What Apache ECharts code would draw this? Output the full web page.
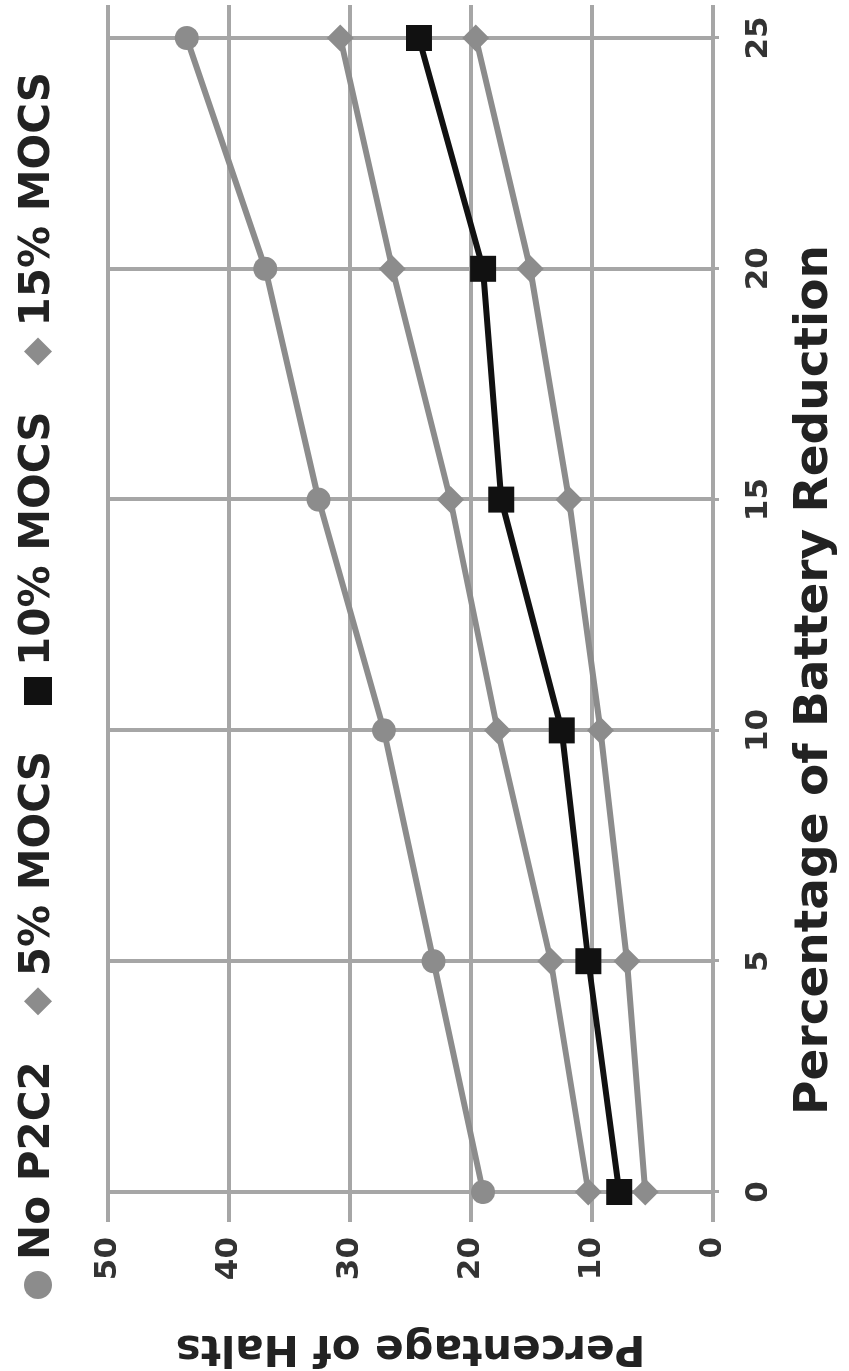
<!DOCTYPE html>
<html><head><meta charset="utf-8">
<script src="https://cdn.jsdelivr.net/npm/echarts@6/dist/echarts.min.js"></script>
<style>
html,body{margin:0;padding:0;background:#fff;overflow:hidden;width:849px;height:1371px;}
#chart{position:absolute;left:0;top:0;width:1371px;height:849px;transform-origin:0 0;transform:translate(0,1371px) rotate(-90deg);}
</style></head><body>
<div id="chart"></div>
<script>
// Battery reduction (%) categories on the horizontal axis of the (unrotated) chart
const batteryReduction = [0, 5, 10, 15, 20, 25];
// Percentage of halts per series
const noP2C2  = [19.0, 23.1, 27.2, 32.6, 37.0, 43.5];
const mocs5   = [10.3, 13.4, 17.8, 21.7, 26.5, 30.8];
const mocs10  = [7.75, 10.3, 12.5, 17.5, 19.0, 24.3];
const mocs15  = [5.6, 7.1, 9.3, 11.9, 15.1, 19.6];
const seriesNames = ['No P2C2', '5% MOCS', '10% MOCS', '15% MOCS'];
const xTicks = [0, 5, 10, 15, 20, 25];
const yTicks = [0, 10, 20, 30, 40, 50];

const FONT = 'DejaVu Sans';
const GRAY = '#8c8c8c';
const GRID = '#a6a6a6';
const pairs = vals => batteryReduction.map((b, i) => [b, vals[i]]);

const chart = echarts.init(document.getElementById('chart'));
chart.setOption({
  animation: false,
  backgroundColor: '#fff',
  legend: {
    top: 12, left: 'center', itemGap: 46, itemWidth: 28, itemHeight: 28,
    textStyle: { fontFamily: FONT, fontWeight: 'bold', fontSize: 42, color: '#222', padding: [0, 0, 0, 6] },
    data: [
      { name: seriesNames[0], icon: 'circle', itemStyle: { color: GRAY } },
      { name: seriesNames[1], icon: 'diamond', itemStyle: { color: GRAY } },
      { name: seriesNames[2], icon: 'rect', itemStyle: { color: '#111' } },
      { name: seriesNames[3], icon: 'diamond', itemStyle: { color: GRAY } }
    ]
  },
  grid: { left: 179, right: 38, top: 108, bottom: 136, containLabel: false, outerBoundsMode: 'none' },
  xAxis: {
    type: 'value', min: xTicks[0], max: xTicks[xTicks.length - 1], interval: 5,
    name: 'Percentage of Battery Reduction', nameLocation: 'middle', nameGap: 78,
    nameTextStyle: { fontFamily: FONT, fontWeight: 'bold', fontSize: 47, color: '#222', padding: [0, 130, 0, 0] },
    axisLine: { show: false },
    axisTick: { show: true, length: 6, lineStyle: { color: GRID, width: 3 } },
    axisLabel: { margin: 30, fontFamily: FONT, fontWeight: 'bold', fontSize: 31, color: '#333' },
    splitLine: { show: true, lineStyle: { color: GRID, width: 4 } }
  },
  yAxis: [{
    type: 'value', min: yTicks[0], max: yTicks[yTicks.length - 1], interval: 10,
    name: 'Percentage of Halts', nameLocation: 'middle', nameGap: 134,
    nameTextStyle: { fontFamily: FONT, fontWeight: 'bold', fontSize: 42, color: '#222' },
    axisLine: { show: false },
    axisTick: { show: true, length: 30, lineStyle: { color: GRID, width: 4 } },
    axisLabel: { margin: 45, fontFamily: FONT, fontWeight: 'bold', fontSize: 31, color: '#333' },
    splitLine: { show: true, lineStyle: { color: GRID, width: 4 } }
  }, {
    type: 'value', position: 'right', min: yTicks[0], max: yTicks[yTicks.length - 1], interval: 10,
    axisLine: { show: false }, axisLabel: { show: false }, splitLine: { show: false },
    axisTick: { show: true, length: 33, lineStyle: { color: GRID, width: 4 } }
  }],
  series: [
    { name: seriesNames[0], type: 'line', data: pairs(noP2C2), symbol: 'circle', symbolSize: 24,
      itemStyle: { color: GRAY }, lineStyle: { color: GRAY, width: 6 } },
    { name: seriesNames[1], type: 'line', data: pairs(mocs5), symbol: 'diamond', symbolSize: 27,
      itemStyle: { color: GRAY }, lineStyle: { color: GRAY, width: 6 } },
    { name: seriesNames[3], type: 'line', data: pairs(mocs15), symbol: 'diamond', symbolSize: 27,
      itemStyle: { color: GRAY }, lineStyle: { color: GRAY, width: 6 } },
    { name: seriesNames[2], type: 'line', data: pairs(mocs10), symbol: 'rect', symbolSize: 26,
      itemStyle: { color: '#111' }, lineStyle: { color: '#111', width: 6 }, z: 5 }
  ]
});
</script>
</body></html>
